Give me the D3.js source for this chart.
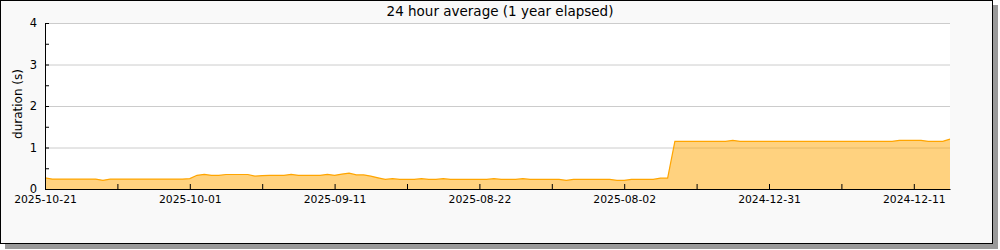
<!DOCTYPE html>
<html><head><meta charset="utf-8">
<script src="https://cdn.jsdelivr.net/npm/d3@7"></script>
<style>
body{margin:0;background:#fff;}
svg text{font-family:"DejaVu Sans",sans-serif;}
</style></head>
<body><svg id="c" width="1000" height="250"></svg>
<script>
const title = "24 hour average (1 year elapsed)";
const yLabel = "duration (s)";
const tickIndex = [0, 20, 40, 60, 80, 100, 120];
const tickLabels = ["2025-10-21","2025-10-01","2025-09-11","2025-08-22","2025-08-02","2024-12-31","2024-12-11"];
const yTicks = [0, 1, 2, 3, 4];
const durations = [
  0.27,0.24,0.24,0.24,0.24,0.24,0.24,0.24,0.21,0.24,
  0.24,0.24,0.24,0.24,0.24,0.24,0.24,0.24,0.24,0.24,
  0.25,0.33,0.35,0.33,0.33,0.35,0.35,0.35,0.35,0.31,
  0.32,0.33,0.33,0.33,0.35,0.33,0.33,0.33,0.33,0.35,
  0.33,0.36,0.38,0.34,0.34,0.31,0.27,0.23,0.25,0.23,
  0.23,0.23,0.25,0.23,0.23,0.25,0.23,0.23,0.23,0.23,
  0.23,0.23,0.25,0.23,0.23,0.23,0.25,0.23,0.23,0.23,
  0.23,0.23,0.21,0.23,0.23,0.23,0.23,0.23,0.23,0.21,
  0.21,0.23,0.23,0.23,0.23,0.26,0.26,1.15,1.15,1.15,
  1.15,1.15,1.15,1.15,1.15,1.17,1.15,1.15,1.15,1.15,
  1.15,1.15,1.15,1.15,1.15,1.15,1.15,1.15,1.15,1.15,
  1.15,1.15,1.15,1.15,1.15,1.15,1.15,1.15,1.17,1.17,
  1.17,1.17,1.15,1.15,1.15,1.2
];

const svg = d3.select("#c");
// frame with shadow
svg.append("rect").attr("x",5).attr("y",5).attr("width",993).attr("height",244).attr("fill","#9a9a9a");
svg.append("rect").attr("x",0.5).attr("y",0.5).attr("width",992).attr("height",243).attr("fill","#f9f9f9").attr("stroke","#000");

const L=45, R=950, T=23, B=189;
const x = d3.scaleLinear().domain([0, durations.length-1]).range([L, R]);
const y = d3.scaleLinear().domain([0, 4]).range([B, T]);

svg.append("rect").attr("x",L).attr("y",T).attr("width",R-L).attr("height",B-T).attr("fill","#fff");

// grid
svg.append("g").selectAll("line").data(yTicks.filter(d=>d>0)).join("line")
  .attr("x1",L).attr("x2",R).attr("y1",d=>y(d)+0.5).attr("y2",d=>y(d)+0.5)
  .attr("stroke","#cccccc").attr("stroke-width",1);

const area = d3.area().x((d,i)=>x(i)).y0(y(0)).y1(d=>y(d));
const line = d3.line().x((d,i)=>x(i)).y(d=>y(d));
svg.append("path").datum(durations).attr("d",area).attr("fill","orange").attr("fill-opacity",0.5);
svg.append("path").datum(durations).attr("d",line).attr("fill","none").attr("stroke","orange").attr("stroke-width",1.2);

// x axis
const xAxis = d3.axisBottom(x).tickValues(tickIndex).tickFormat((d,i)=>tickLabels[i]).tickSizeInner(-5).tickSizeOuter(0).tickPadding(6);
const gx = svg.append("g").attr("transform",`translate(0,${B})`).call(xAxis);
gx.select(".domain").attr("stroke","#000");
gx.selectAll("text").attr("font-size",10.8).attr("fill","#000").attr("font-family","DejaVu Sans");
const minorX = d3.range(10, durations.length, 20);
gx.selectAll(".minor").data(minorX).join("line").attr("class","minor")
  .attr("x1",d=>x(d)+0.5).attr("x2",d=>x(d)+0.5).attr("y1",0).attr("y2",-5).attr("stroke","#000");

// y axis
const yAxis = d3.axisLeft(y).tickValues(yTicks).tickFormat(d3.format("d")).tickSizeInner(-4).tickSizeOuter(0).tickPadding(8);
const gy = svg.append("g").attr("transform",`translate(${L},0)`).call(yAxis);
gy.select(".domain").attr("stroke","#000");
gy.selectAll("text").attr("font-size",11.5).attr("fill","#000").attr("font-family","DejaVu Sans");
gy.selectAll(".minor").data([0.5,1.5,2.5,3.5]).join("line").attr("class","minor")
  .attr("x1",0).attr("x2",4).attr("y1",d=>y(d)+0.5).attr("y2",d=>y(d)+0.5).attr("stroke","#000");

svg.append("text").attr("x",500).attr("y",16).attr("text-anchor","middle").attr("font-size",13.5).attr("fill","#000").text(title);
svg.append("text").attr("transform","translate(22,104) rotate(-90)").attr("text-anchor","middle").attr("font-size",12).attr("fill","#000").text(yLabel);
</script></body></html>
